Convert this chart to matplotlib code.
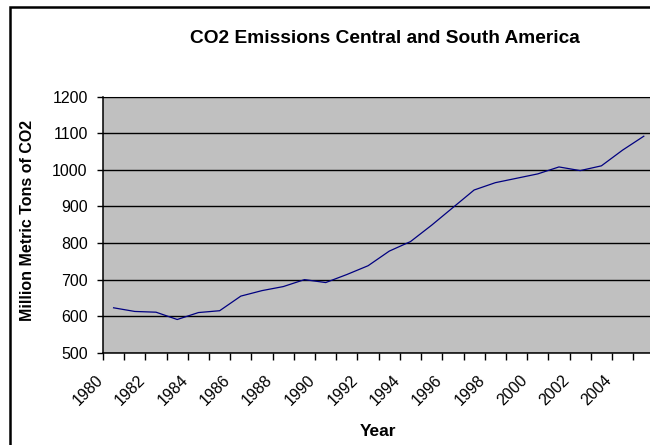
import numpy as np
import matplotlib.pyplot as plt
import matplotlib.patches as patches
from matplotlib.transforms import ScaledTranslation

plt.rcParams['font.family'] = ['Liberation Sans', 'DejaVu Sans']

years = list(range(1980, 2006))
emissions = [623, 613, 611, 591, 610, 615, 655, 670, 681, 700,
             692, 714, 738, 778, 804, 849, 897, 945, 965, 977,
             989, 1008, 998, 1011, 1054, 1092]
label_years = list(range(1980, 2005, 2))
y_ticks = list(range(500, 1300, 100))

fig = plt.figure(figsize=(6.5, 4.45), dpi=100)
fig.patch.set_facecolor('white')

# chart frame, running off the right and bottom edges
frame = patches.Rectangle((10 / 650, -0.2), 1.2, 1.2 - 7 / 445,
                          transform=fig.transFigure, fill=False,
                          edgecolor='black', linewidth=1.8, zorder=0)
fig.add_artist(frame)

ax = fig.add_axes([103 / 650, 1 - 352.8 / 445, 551.4 / 650, 256.1 / 445])
ax.set_facecolor('#C0C0C0')

x = np.arange(len(years))
ax.plot(x, emissions, color='#000080', linewidth=0.9, zorder=3)

ax.set_xlim(-0.5, len(years) - 0.5)
ax.set_ylim(500, 1200)

ax.set_yticks(y_ticks)
ax.set_yticklabels([str(v) for v in y_ticks], fontsize=11.5)
ax.yaxis.grid(True, color='black', linewidth=1.0)
ax.set_axisbelow(False)

# category labels every other year, tick marks between categories
ax.set_xticks([years.index(yr) for yr in label_years])
ax.set_xticklabels([str(yr) for yr in label_years], fontsize=11.5)
ax.set_xticks(np.arange(-0.5, len(years)), minor=True)
ax.tick_params(axis='x', which='major', length=0, pad=18)
ax.tick_params(axis='x', which='minor', length=5, width=1, direction='out')
ax.tick_params(axis='y', length=4.5, width=1, direction='out', pad=6.5)

shift = ScaledTranslation(-0.13, 0, fig.dpi_scale_trans)
for lab in ax.get_xticklabels():
    lab.set_rotation(45)
    lab.set_ha('right')
    lab.set_va('center')
    lab.set_rotation_mode('anchor')
    lab.set_transform(lab.get_transform() + shift)

for side in ['left', 'bottom']:
    ax.spines[side].set_linewidth(1.1)
    ax.spines[side].set_color('black')
ax.spines['top'].set_color('#808080')
ax.spines['right'].set_visible(False)

fig.text(385 / 650, 1 - 38.5 / 445, 'CO2 Emissions Central and South America',
         ha='center', va='center', fontsize=13.8, fontweight='bold')
fig.text(28 / 650, 1 - 220 / 445, 'Million Metric Tons of CO2',
         ha='center', va='center', rotation=90, fontsize=11.5, fontweight='bold')
fig.text(378 / 650, 1 - 432 / 445, 'Year',
         ha='center', va='center', fontsize=12.5, fontweight='bold')

fig.savefig('out.png', dpi=100)
